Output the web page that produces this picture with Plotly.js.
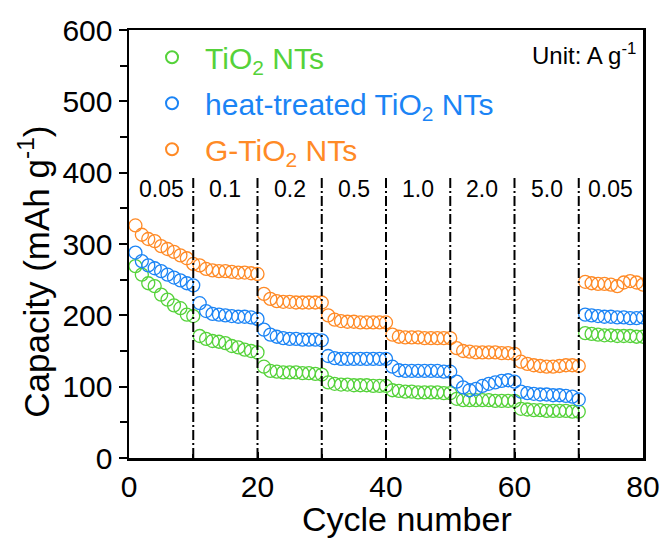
<!DOCTYPE html>
<html>
<head>
<meta charset="utf-8">
<script src="https://cdn.plot.ly/plotly-3.0.1.min.js"></script>
<style>html,body{margin:0;padding:0;background:#fff;}#chart{width:665px;height:540px;}</style>
</head>
<body>
<div id="chart"></div>
<script>
// ---- data ----
const cycles = Array.from({length: 80}, (_, i) => i + 1);

const tio2 = [
  269, 257, 245, 241, 229, 222, 214, 210, 201, 199,
  171, 167, 164, 163, 161, 157, 155, 152, 150, 148,
  128, 122, 121, 120, 120, 120, 119, 119, 118, 117,
  106, 104, 103, 103, 102, 102, 102, 101, 101, 101,
  95, 94, 93, 93, 92, 92, 92, 92, 91, 91,
  83, 81, 81, 81, 81, 81, 80, 80, 80, 80,
  69, 68, 67, 67, 66, 66, 66, 66, 65, 65,
  175, 174, 173, 172, 172, 171, 171, 171, 170, 170
];
const heatTreated = [
  288, 276, 270, 266, 262, 257, 253, 249, 245, 242,
  217, 206, 202, 201, 200, 199, 198, 198, 197, 195,
  180, 173, 170, 168, 167, 167, 166, 166, 166, 165,
  143, 140, 139, 139, 139, 139, 139, 139, 139, 139,
  128, 123, 122, 122, 122, 122, 122, 122, 121, 121,
  107, 99, 95, 97, 101, 104, 106, 108, 109, 107,
  93, 91, 90, 89, 89, 88, 88, 87, 86, 82,
  201, 200, 199, 198, 198, 197, 197, 196, 196, 197
];
const gTio2 = [
  326, 313, 307, 304, 297, 293, 289, 284, 280, 272,
  270, 265, 263, 262, 262, 261, 260, 260, 259, 258,
  230, 223, 220, 219, 219, 218, 218, 218, 218, 218,
  200, 194, 192, 191, 191, 190, 190, 190, 190, 190,
  173, 170, 169, 169, 169, 168, 168, 168, 168, 168,
  154, 150, 149, 148, 148, 148, 148, 147, 147, 146,
  135, 132, 130, 129, 128, 128, 129, 130, 130, 129,
  247, 245, 244, 244, 243, 241, 246, 248, 246, 243
];
const seriesNames = ['TiO<sub>2</sub> NTs', 'heat-treated TiO<sub>2</sub> NTs', 'G-TiO<sub>2</sub> NTs'];
const rateBoundaries = [10, 20, 30, 40, 50, 60, 70];
const rateLabelPos = [5, 15, 25, 35, 45, 55, 65, 75];
const rateLabels = ['0.05', '0.1', '0.2', '0.5', '1.0', '2.0', '5.0', '0.05'];

// ---- style ----
const colors = ['#55d23a', '#1b84f5', '#ff8a26'];
const FONT = 'Arial, "Liberation Sans", sans-serif';

function mk(y, i) {
  return {
    x: cycles, y: y, type: 'scatter', mode: 'markers',
    name: '<span style="color:' + colors[i] + '">' + seriesNames[i] + '</span>',
    legendgroup: 'g' + i,
    marker: {symbol: 'circle-open', size: 13, color: colors[i], line: {width: 1.3, color: colors[i]}}
  };
}
const data = [mk(tio2, 0), mk(heatTreated, 1), mk(gTio2, 2)];

const shapes = rateBoundaries.map(b => ({
  type: 'line', xref: 'x', yref: 'y', x0: b, x1: b, y0: 0, y1: 395,
  line: {color: '#000', width: 2, dash: '10px,3px,2px,3px'}, layer: 'above'
}));

const annotations = rateLabels.map((t, i) => ({
  x: rateLabelPos[i], y: 377, xref: 'x', yref: 'y', text: t, showarrow: false,
  font: {family: FONT, size: 23, color: '#000'}, xanchor: 'center', yanchor: 'middle'
}));
annotations.push({
  x: 0.99, y: 0.945, xref: 'paper', yref: 'paper', text: 'Unit: A g<sup>-1</sup>',
  showarrow: false, xanchor: 'right', yanchor: 'middle',
  font: {family: FONT, size: 24, color: '#000'}
});
// axis titles
annotations.push({
  x: 0.540, y: -0.1905, xref: 'paper', yref: 'paper', text: 'Cycle number',
  showarrow: false, xanchor: 'center', yanchor: 'bottom',
  font: {family: FONT, size: 34, color: '#000'}
});
annotations.push({
  x: -0.185, y: 0.435, xref: 'paper', yref: 'paper', text: 'Capacity (mAh g<sup>-1</sup>)',
  showarrow: false, xanchor: 'center', yanchor: 'middle', textangle: -90,
  font: {family: FONT, size: 35, color: '#000'}
});

const layout = {
  width: 665, height: 540,
  margin: {l: 129, r: 22, t: 30, b: 82},
  paper_bgcolor: '#fff', plot_bgcolor: '#fff',
  font: {family: FONT, color: '#000'},
  showlegend: true,
  legend: {
    x: 0.0195, y: 0.997, xanchor: 'left', yanchor: 'top',
    bgcolor: 'rgba(0,0,0,0)', borderwidth: 0,
    font: {family: FONT, size: 30},
    itemsizing: 'constant', itemwidth: 56, tracegroupgap: 4
  },
  xaxis: {
    range: [0, 80], dtick: 20, tick0: 0,
    ticks: 'inside', ticklen: 6, tickwidth: 2, tickcolor: '#000',
    minor: {dtick: 10, ticks: 'inside', ticklen: 4, tickwidth: 2, tickcolor: '#000'},
    showline: true, linewidth: 2.5, linecolor: '#000', mirror: true,
    showgrid: false, zeroline: false,
    tickfont: {family: FONT, size: 30, color: '#000'}
  },
  yaxis: {
    range: [0, 600], dtick: 100, tick0: 0,
    ticks: 'outside', ticklen: 8, tickwidth: 2, tickcolor: '#000',
    minor: {dtick: 50, ticks: 'outside', ticklen: 7, tickwidth: 2, tickcolor: '#000'},
    showline: true, linewidth: 2.5, linecolor: '#000', mirror: true,
    showgrid: false, zeroline: false,
    tickfont: {family: FONT, size: 30, color: '#000'}
  },
  yaxis2: {
    overlaying: 'y', side: 'left', anchor: 'x',
    range: [0, 600], dtick: 100, tick0: 0,
    ticks: 'inside', ticklen: 9, tickwidth: 2, tickcolor: '#000',
    minor: {dtick: 50, ticks: 'inside', ticklen: 9, tickwidth: 2, tickcolor: '#000'},
    showticklabels: false, showline: false, showgrid: false, zeroline: false
  },
  shapes: shapes,
  annotations: annotations
};

Plotly.newPlot('chart', data, layout, {displayModeBar: false, staticPlot: true});
</script>
</body>
</html>
